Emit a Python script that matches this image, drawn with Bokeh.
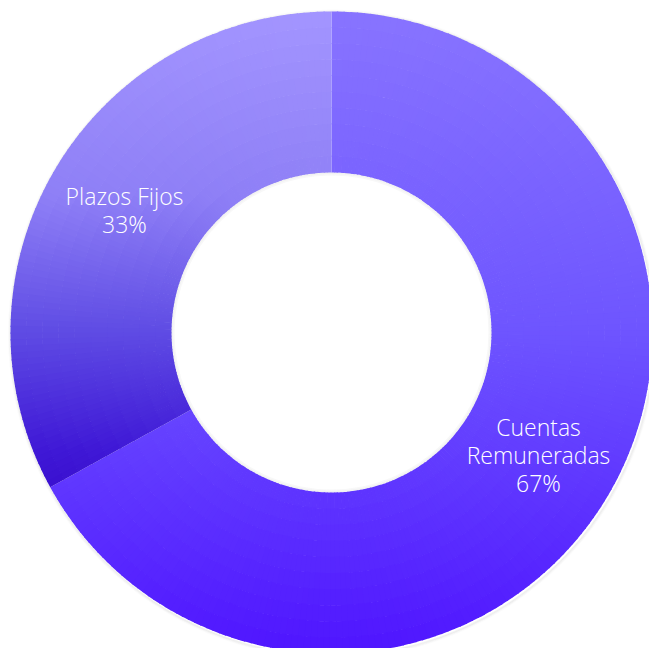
import numpy as np
from bokeh.plotting import figure
from bokeh.models import Range1d, ColumnDataSource
from bokeh.core.properties import value
from bokeh.embed import file_html
from bokeh.resources import INLINE

# ---- data ----
categories = ["Cuentas Remuneradas", "Plazos Fijos"]
label_lines = ["Cuentas\nRemuneradas", "Plazos Fijos"]
shares = [67, 33]

# ---- style ----
R_OUT = 321
R_IN = 160
CX_IMG, CY_IMG = 331, 332  # donut centre in page pixels
# vertical gradient stops (page y, colour) per slice
grad_stops = {
    "Cuentas Remuneradas": [(11, "#8874FF"), (330, "#6E55FF"), (653, "#4F15FF")],
    "Plazos Fijos": [(11, "#A395FF"), (197, "#8E7FF6"), (330, "#5F4CE4"),
                     (450, "#3F18D6"), (490, "#3A0FCF")],
}


def hex2rgb(h):
    h = h.lstrip("#")
    return np.array([int(h[i:i + 2], 16) for i in (0, 2, 4)], dtype=float)


def grad_color(stops, y_img):
    ys = [s[0] for s in stops]
    cs = np.array([hex2rgb(s[1]) for s in stops])
    rgb = [np.interp(y_img, ys, cs[:, k]) for k in range(3)]
    return "#%02x%02x%02x" % tuple(int(round(v)) for v in rgb)


W, H = 649, 648
OFF = 0
p = figure(width=W, height=H, output_backend="svg", toolbar_location=None,
           x_range=Range1d(OFF - CX_IMG, OFF + W - CX_IMG),
           y_range=Range1d(CY_IMG - OFF - H, CY_IMG - OFF),
           min_border=0, match_aspect=False)
p.axis.visible = False
p.grid.visible = False
p.outline_line_color = None
p.background_fill_color = "white"
p.border_fill_color = "white"

# soft shadow around the ring
for k, a in enumerate([0.08, 0.05, 0.025]):
    p.annular_wedge(x=1, y=-1.5, inner_radius=R_OUT + k, outer_radius=R_OUT + k + 1.5,
                    start_angle=0, end_angle=2 * np.pi, fill_color="#555555",
                    fill_alpha=a, line_color=None)

# compute slice angles (clockwise from 12 o'clock)
total = float(sum(shares))
angles = []
cur = np.pi / 2
for s in shares:
    span = 2 * np.pi * s / total
    angles.append((cur - span, cur))
    cur -= span

xs, ys, ri, ro, sa, ea, cols = [], [], [], [], [], [], []
n_rad = 10
radii = np.linspace(R_IN, R_OUT, n_rad + 1)
for cat, (a0, a1) in zip(categories, angles):
    n_ang = int(np.ceil(np.degrees(a1 - a0) / 1.2))
    angs = np.linspace(a0, a1, n_ang + 1)
    for i in range(n_ang):
        for j in range(n_rad):
            am = 0.5 * (angs[i] + angs[i + 1])
            rm = 0.5 * (radii[j] + radii[j + 1])
            y_img = CY_IMG - rm * np.sin(am)
            c = grad_color(grad_stops[cat], y_img)
            xs.append(0); ys.append(0)
            ri.append(radii[j]); ro.append(radii[j + 1] + (0.6 if j < n_rad - 1 else 0))
            sa.append(angs[i]); ea.append(angs[i + 1] + (0.004 if i < n_ang - 1 else 0))
            cols.append(c)

src = ColumnDataSource(dict(x=xs, y=ys, ri=ri, ro=ro, sa=sa, ea=ea, c=cols))
p.annular_wedge(x="x", y="y", inner_radius="ri", outer_radius="ro",
                start_angle="sa", end_angle="ea", fill_color="c",
                line_color=None, source=src)

# inner hole faint shadow
for k, a in enumerate([0.08, 0.04]):
    p.annular_wedge(x=0, y=0, inner_radius=R_IN - 1.5 - k * 1.5, outer_radius=R_IN - k * 1.5,
                    start_angle=0, end_angle=2 * np.pi, fill_color="#555555",
                    fill_alpha=a, line_color=None)

# labels at mid angle / mid radius
r_lab = 0.5 * (R_IN + R_OUT)
lx, ly, lt = [], [], []
for txt, s, (a0, a1) in zip(label_lines, shares, angles):
    am = 0.5 * (a0 + a1)
    lx.append(r_lab * np.cos(am))
    ly.append(r_lab * np.sin(am))
    lt.append(f"{txt}\n{s}%")
p.text(x=lx, y=ly, text=lt, text_color="white",
       text_font=value("Open Sans Light, Lato Light, Lato"),
       text_font_size="23px", text_align="center", text_baseline="middle",
       text_line_height=0.87)

open("out.html", "w").write(file_html(p, INLINE))
